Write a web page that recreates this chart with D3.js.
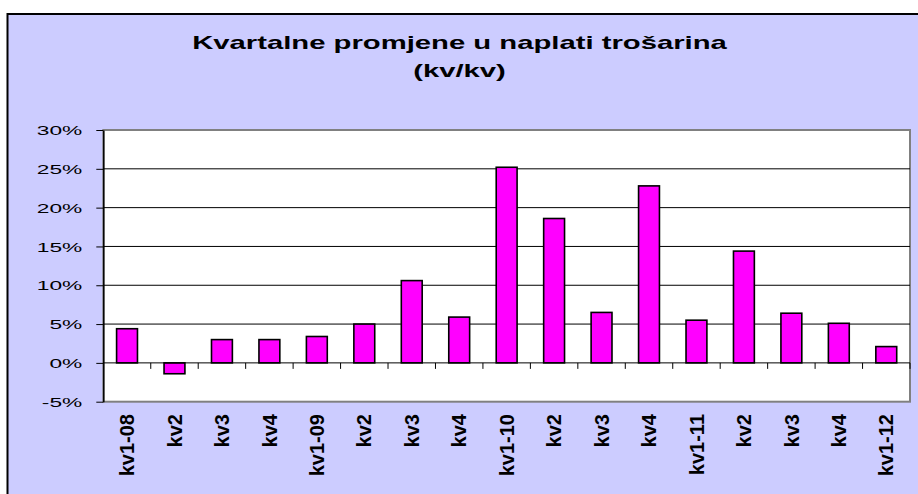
<!DOCTYPE html>
<html>
<head>
<meta charset="utf-8">
<script src="https://cdn.jsdelivr.net/npm/d3@7"></script>
<style>
  body { margin: 0; background: #fff; }
  text { font-family: Arial, "Liberation Sans", sans-serif; }
</style>
</head>
<body>
<svg id="chart" width="918" height="494"></svg>
<script>
// podaci
const categories = ["kv1-08","kv2","kv3","kv4","kv1-09","kv2","kv3","kv4","kv1-10","kv2","kv3","kv4","kv1-11","kv2","kv3","kv4","kv1-12"];
const values = [4.4, -1.4, 3.0, 3.0, 3.4, 5.0, 10.6, 5.9, 25.2, 18.6, 6.5, 22.8, 5.5, 14.4, 6.4, 5.1, 2.1];
const yTicks = [-5, 0, 5, 10, 15, 20, 25, 30];
const titleLines = ["Kvartalne promjene u naplati trošarina", "(kv/kv)"];

const svg = d3.select("#chart");
const plot = {left: 103.3, right: 910, top: 130, bottom: 401.7};

// okvir
svg.append("rect")
  .attr("x", 7.5).attr("y", 14)
  .attr("width", 930).attr("height", 500)
  .attr("fill", "#CCCCFF")
  .attr("stroke", "#000").attr("stroke-width", 2);

// naslov
svg.selectAll(".title").data(titleLines).enter()
  .append("text")
  .attr("class", "title")
  .attr("text-anchor", "middle")
  .attr("font-weight", "bold")
  .attr("font-size", 19)
  .attr("transform", (d, i) => `translate(459.5,${48.5 + i * 28}) scale(1.54,1)`)
  .text(d => d);

const x = d3.scaleBand()
  .domain(d3.range(categories.length))
  .range([plot.left, plot.right])
  .paddingInner(0.56).paddingOuter(0.28);

const y = d3.scaleLinear()
  .domain([yTicks[0], yTicks[yTicks.length - 1]])
  .range([plot.bottom, plot.top]);

// područje grafa
svg.append("rect")
  .attr("x", plot.left).attr("y", plot.top)
  .attr("width", plot.right - plot.left).attr("height", plot.bottom - plot.top)
  .attr("fill", "#fff")
  .attr("stroke", "#808080").attr("stroke-width", 2);

// mreža
svg.append("g").selectAll("line")
  .data(yTicks.filter(d => d > 0 && d < 30)).enter()
  .append("line")
  .attr("x1", plot.left).attr("x2", plot.right)
  .attr("y1", d => y(d)).attr("y2", d => y(d))
  .attr("stroke", "#000").attr("stroke-width", 1);

// stupci
svg.append("g").selectAll("rect")
  .data(values).enter()
  .append("rect")
  .attr("x", (d, i) => x(i))
  .attr("width", x.bandwidth())
  .attr("y", d => y(Math.max(0, d)))
  .attr("height", d => Math.abs(y(d) - y(0)))
  .attr("fill", "#FF00FF")
  .attr("stroke", "#000").attr("stroke-width", 1.6);

// nulta linija s oznakama
const zero = svg.append("g");
zero.append("line")
  .attr("x1", plot.left).attr("x2", plot.right)
  .attr("y1", y(0)).attr("y2", y(0))
  .attr("stroke", "#000").attr("stroke-width", 1);
zero.selectAll(".ztick")
  .data(d3.range(1, categories.length + 1)).enter()
  .append("line")
  .attr("x1", i => plot.left + i * x.step())
  .attr("x2", i => plot.left + i * x.step())
  .attr("y1", y(0)).attr("y2", y(0) + 6)
  .attr("stroke", "#000").attr("stroke-width", 1);

// os y
const yAxis = svg.append("g")
  .attr("transform", `translate(${plot.left},0)`)
  .call(d3.axisLeft(y).tickValues(yTicks).tickSize(7).tickSizeOuter(0).tickFormat(d => d + "%"));
yAxis.select(".domain").attr("stroke", "#000").attr("stroke-width", 1.5);
yAxis.selectAll(".tick line").attr("stroke", "#000");
yAxis.selectAll(".tick text")
  .attr("x", 0).attr("dy", "0.35em")
  .attr("font-size", 13)
  .attr("fill", "#000")
  .attr("font-family", 'Arial, "Liberation Sans", sans-serif')
  .attr("transform", "translate(-21,0) scale(1.75,1)");

// oznake kategorija
const F = 20;
svg.append("g").selectAll("text")
  .data(categories).enter()
  .append("text")
  .attr("font-size", F)
  .attr("font-weight", "bold")
  .attr("text-anchor", "end")
  .attr("transform", (d, i) => `translate(${x(i) + x.bandwidth() / 2 + 0.36 * F},414) rotate(-90)`)
  .text(d => d);
</script>
</body>
</html>
